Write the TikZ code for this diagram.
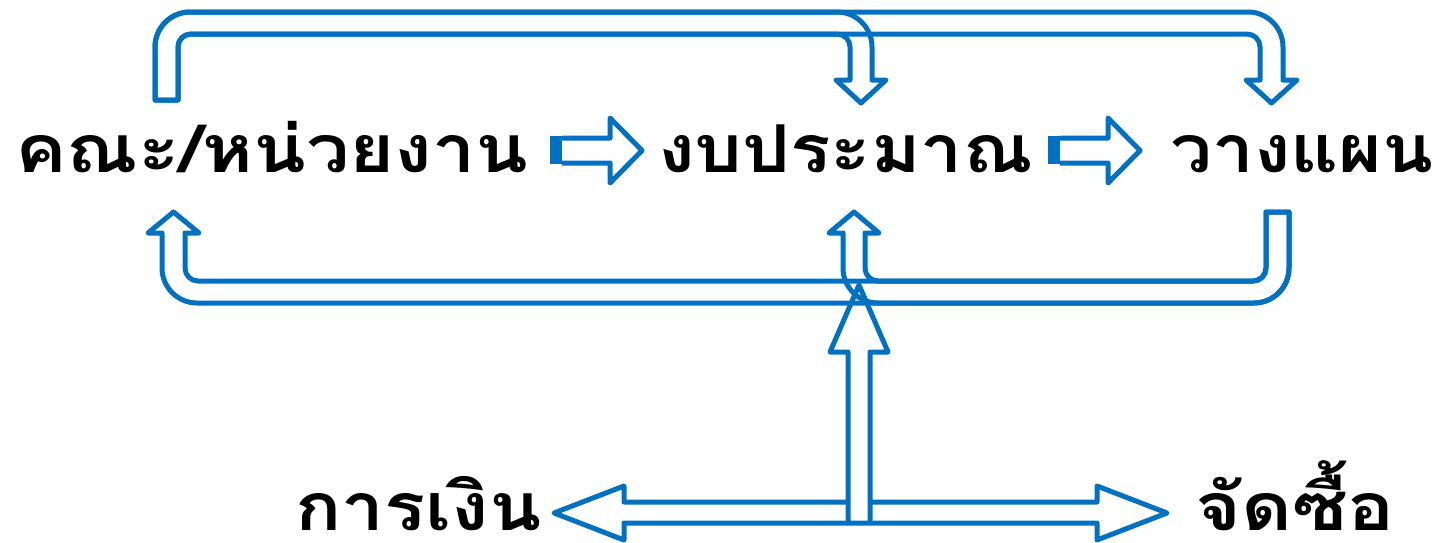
\documentclass[tikz,border=0pt]{standalone}
\usepackage{fontspec}
\newfontfamily\thaifont[Script=Thai]{Loma}
\usetikzlibrary{calc}
\definecolor{arrowblue}{HTML}{0070C0}
\tikzset{
  blockarrow/.style={draw=arrowblue, line width=5pt, line join=round},
  label/.style={font=\thaifont\bfseries\fontsize{66}{70}\selectfont, text=black, inner sep=0pt, anchor=base west},
}
\begin{document}
\begin{tikzpicture}[x=1pt, y=-1pt]
\useasboundingbox (0,0) rectangle (1441,542);
% texts
\node[label, xscale=1.17] (faculty) at (15,172) {คณะ/หน่วยงาน};
\node[label, xscale=1.14] (budget) at (658,172) {งบประมาณ};
\node[label, xscale=1.13] (plan) at (1170,172) {วางแผน};
\node[label, xscale=1.16] (finance) at (295,530) {การเงิน};
\node[label, xscale=1.19] (purchase) at (1195,530) {จัดซื้อ};
% top U-arrow: faculty -> budget
\draw[blockarrow] (155,100) -- (155,47) .. controls (155,27.7) and (170.7,12) .. (190,12)
  -- (837,12) .. controls (856.3,12) and (872,27.7) .. (872,47) -- (872,80) -- (886,80)
  -- (861,103) -- (836,80) -- (850,80) -- (850,47) .. controls (850,39.8) and (844.2,34) .. (837,34)
  -- (191,34) .. controls (183.8,34) and (178,39.8) .. (178,47) -- (178,100) -- cycle;
% top U-arrow: faculty -> plan
\draw[blockarrow] (155,100) -- (155,47) .. controls (155,27.7) and (170.7,12) .. (190,12)
  -- (1248,12) .. controls (1267.3,12) and (1283,27.7) .. (1283,47) -- (1283,80) -- (1297,80)
  -- (1271.5,103) -- (1246,80) -- (1260,80) -- (1260,47) .. controls (1260,39.8) and (1254.2,34) .. (1247,34)
  -- (191,34) .. controls (183.8,34) and (178,39.8) .. (178,47) -- (178,100) -- cycle;
% bottom U-arrow: plan -> budget
\draw[blockarrow] (1266,212) -- (1289,212) -- (1289,268) .. controls (1289,287.3) and (1273.3,303) .. (1254,303)
  -- (878,303) .. controls (858.7,303) and (843,287.3) .. (843,268) -- (843,233) -- (829,233)
  -- (854,212) -- (879,233) -- (865,233) -- (865,268) .. controls (865,275.2) and (870.8,281) .. (878,281)
  -- (1253,281) .. controls (1260.2,281) and (1266,275.2) .. (1266,268) -- cycle;
% bottom U-arrow: plan -> faculty
\draw[blockarrow] (1266,212) -- (1289,212) -- (1289,268) .. controls (1289,287.3) and (1273.3,303) .. (1254,303)
  -- (197,303) .. controls (177.7,303) and (162,287.3) .. (162,268) -- (162,233) -- (148,233)
  -- (173.5,212) -- (199,233) -- (185,233) -- (185,268) .. controls (185,275.2) and (190.8,281) .. (198,281)
  -- (1253,281) .. controls (1260.2,281) and (1266,275.2) .. (1266,268) -- cycle;
% up arrow from bottom
\draw[blockarrow] (848,523) -- (848,352) -- (830,352) -- (859,285) -- (888,352) -- (870,352) -- (870,523) -- cycle;
% bottom left arrow to finance
\draw[blockarrow] (848,502) -- (624,502) -- (624,486) -- (554,513) -- (624,540) -- (624,523) -- (848,523);
% bottom right arrow to purchase
\draw[blockarrow] (870,502) -- (1097,502) -- (1097,486) -- (1167,513) -- (1097,540) -- (1097,523) -- (870,523);
% small striped arrows
\fill[arrowblue] (550,135.5) rectangle (562,163.5);
\draw[blockarrow] (562,138) -- (610,138) -- (610,118) -- (642,150.5) -- (610,183) -- (610,163) -- (562,163);
\fill[arrowblue] (1048,135.5) rectangle (1060,163.5);
\draw[blockarrow] (1060,138) -- (1108,138) -- (1108,118) -- (1140,150.5) -- (1108,183) -- (1108,163) -- (1060,163);
\end{tikzpicture}
\end{document}
